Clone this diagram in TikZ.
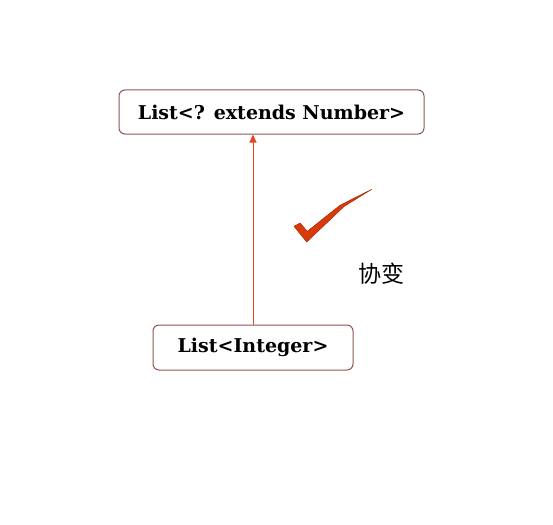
\documentclass[tikz,border=0pt]{standalone}
\usepackage{fontspec}
\setmainfont{DejaVu Serif}
\newfontfamily\cjk{Noto Sans CJK SC}
\usetikzlibrary{arrows.meta,positioning}
\definecolor{boxline}{HTML}{8E5552}
\definecolor{arrowred}{HTML}{E2471F}
\definecolor{tickred}{HTML}{D93A0B}
\definecolor{tickdark}{HTML}{A82A06}

\begin{document}
\begin{tikzpicture}[x=1pt,y=-1pt,on grid,
    typebox/.style={draw=boxline,line width=1pt,rounded corners=6pt,fill=white,
        font=\bfseries\fontsize{19}{21}\selectfont},
    sub/.style={draw=arrowred,line width=1pt,-{Triangle[length=8pt,width=7pt]}}]
    \useasboundingbox (0,0) rectangle (553,524);
    \node[typebox,minimum width=305pt,minimum height=44pt] (high) at (271.5,112) {List<? extends Number>};
    \node[typebox,minimum width=200pt,minimum height=45pt] [below left=235.5pt and 18.5pt of high] (low) {List<Integer>};
    \draw[sub] (low.north) -- (low.north |- high.south);
    % tick
    \fill[tickred,draw=tickdark,line width=0.5pt,line join=round]
        (294,226.3) -- (300,223) -- (307.3,231.3) -- (340,205.3) -- (371.7,189.3)
        -- (344,206.5) -- (306.7,242) -- cycle;
    \node[font=\cjk\fontsize{23}{25}\selectfont] (label) at (381,274) {协变};
\end{tikzpicture}
\end{document}
